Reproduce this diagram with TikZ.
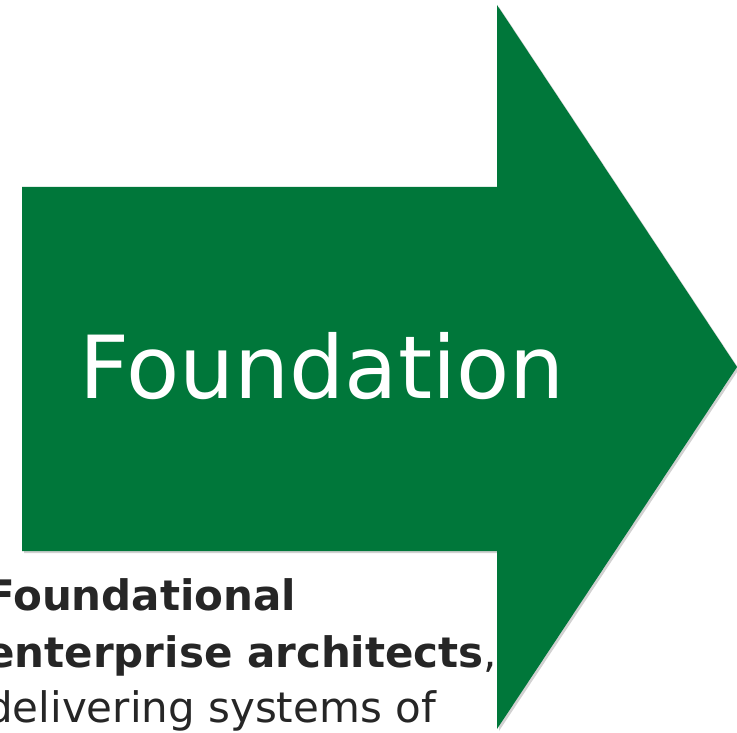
\documentclass[tikz,border=0pt]{standalone}
\usepackage{fontspec}
\setmainfont{DejaVu Sans}
\definecolor{arrowgreen}{HTML}{00773A}
\definecolor{textdark}{HTML}{262626}
\begin{document}
\begin{tikzpicture}[x=1pt,y=-1pt,
  arrowshape/.style={fill=arrowgreen,draw=none},
  shadowshape/.style={fill=black,opacity=0.18,draw=none},
  bodytext/.style={anchor=base west,inner sep=0pt,text=textdark,font=\fontsize{42}{50}\selectfont}]
\useasboundingbox (0,0) rectangle (737,733);
\fill[white] (0,0) rectangle (737,733);
\path[shadowshape] (24,189) -- (499,189) -- (499,7) -- (739,369) -- (499,731) -- (499,553) -- (24,553) -- cycle;
\path[arrowshape] (22,187) -- (497,187) -- (497,5) -- (737,367) -- (497,729) -- (497,551) -- (22,551) -- cycle;
\node[anchor=base,inner sep=0pt,text=white,font=\fontsize{87}{100}\selectfont] (title) at (322,398) {Foundation};
\node[bodytext] (l1) at (-14,610) {\textbf{Foundational}};
\node[bodytext] (l2) at (-14,667) {\textbf{enterprise architects},};
\node[bodytext] (l3) at (-14,722) {delivering systems of};
\end{tikzpicture}
\end{document}
